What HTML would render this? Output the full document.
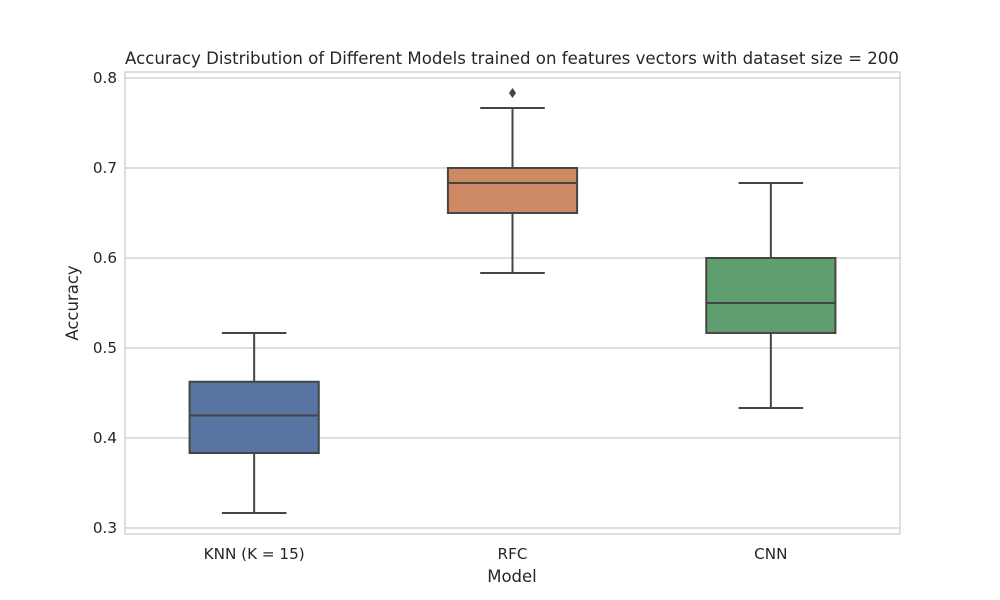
<!DOCTYPE html>
<html><head><meta charset="utf-8"><style>
body{margin:0;background:#fff;}
svg{display:block;font-family:"DejaVu Sans","Liberation Sans",sans-serif;}
</style></head><body>
<svg id="chart" width="1000" height="600">
<text x="512" y="64" text-anchor="middle" font-size="16.6" fill="#262626">Accuracy Distribution of Different Models trained on features vectors with dataset size = 200</text>
<g id="grid"></g><g id="boxes"></g>
<rect x="125" y="72" width="775" height="462" fill="none" stroke="#cccccc" stroke-width="1.25"/>
<text x="512" y="582" text-anchor="middle" font-size="16.5" fill="#262626">Model</text>
<text transform="translate(78,303) rotate(-90)" text-anchor="middle" font-size="16.5" fill="#262626">Accuracy</text>
</svg>
<script>
const categories=["KNN (K = 15)","RFC","CNN"];
const whiskerLow=[0.3167,0.5833,0.4333];
const q1=[0.3833,0.65,0.5167];
const median=[0.425,0.6833,0.55];
const q3=[0.4625,0.70,0.60];
const whiskerHigh=[0.5167,0.7667,0.6833];
const outliers=[[],[0.7833],[]];
const yTicks=[0.3,0.4,0.5,0.6,0.7,0.8];
const colors=["#5875a4","#cc8963","#5f9e6e"];
const NS="http://www.w3.org/2000/svg";
const X0=125,X1=900,Y0=72,Y1=534,ymin=0.29333,ymax=0.80667;
const y=v=>Y1-(v-ymin)/(ymax-ymin)*(Y1-Y0);
const band=(X1-X0)/categories.length;
const xc=i=>X0+band*(i+0.5);
function mk(t,a,p){const e=document.createElementNS(NS,t);for(const k in a)e.setAttribute(k,a[k]);p.appendChild(e);return e;}
const grid=document.getElementById('grid'),boxes=document.getElementById('boxes'),svg=document.getElementById('chart');
yTicks.forEach(t=>{
 const l=mk('line',{x1:X0,x2:X1,y1:y(t),y2:y(t),stroke:'#cccccc','stroke-width':1.25},grid);
 
 
 const tx=mk('text',{x:X0-8,y:y(t)+5,'text-anchor':'end','font-size':15.2,fill:'#262626'},svg);
 tx.textContent=t.toFixed(1);
 
 
});
const bw=band*0.5,lc='#454545';
categories.forEach((c,i)=>{
 const cx=xc(i);
 const g=mk('g',{},boxes);
 
 
 mk('line',{x1:cx,x2:cx,y1:y(q1[i]),y2:y(whiskerLow[i]),stroke:lc,'stroke-width':2},g);
 mk('line',{x1:cx,x2:cx,y1:y(q3[i]),y2:y(whiskerHigh[i]),stroke:lc,'stroke-width':2},g);
 mk('line',{x1:cx-bw/4,x2:cx+bw/4,y1:y(whiskerLow[i]),y2:y(whiskerLow[i]),stroke:lc,'stroke-width':2},g);
 mk('line',{x1:cx-bw/4,x2:cx+bw/4,y1:y(whiskerHigh[i]),y2:y(whiskerHigh[i]),stroke:lc,'stroke-width':2},g);
 mk('rect',{x:cx-bw/2,y:y(q3[i]),width:bw,height:y(q1[i])-y(q3[i]),fill:colors[i],stroke:lc,'stroke-width':2},g);
 mk('line',{x1:cx-bw/2,x2:cx+bw/2,y1:y(median[i]),y2:y(median[i]),stroke:lc,'stroke-width':2},g);
 outliers[i].forEach(o=>{
  const p=mk('polygon',{points:`${cx},${y(o)-5} ${cx+3.5},${y(o)} ${cx},${y(o)+5} ${cx-3.5},${y(o)}`,fill:lc},g);
  
  
 });
 const tx=mk('text',{x:cx,y:559,'text-anchor':'middle','font-size':15.2,fill:'#262626'},svg);
 tx.textContent=c;
 
 
});
</script>
</body></html>
